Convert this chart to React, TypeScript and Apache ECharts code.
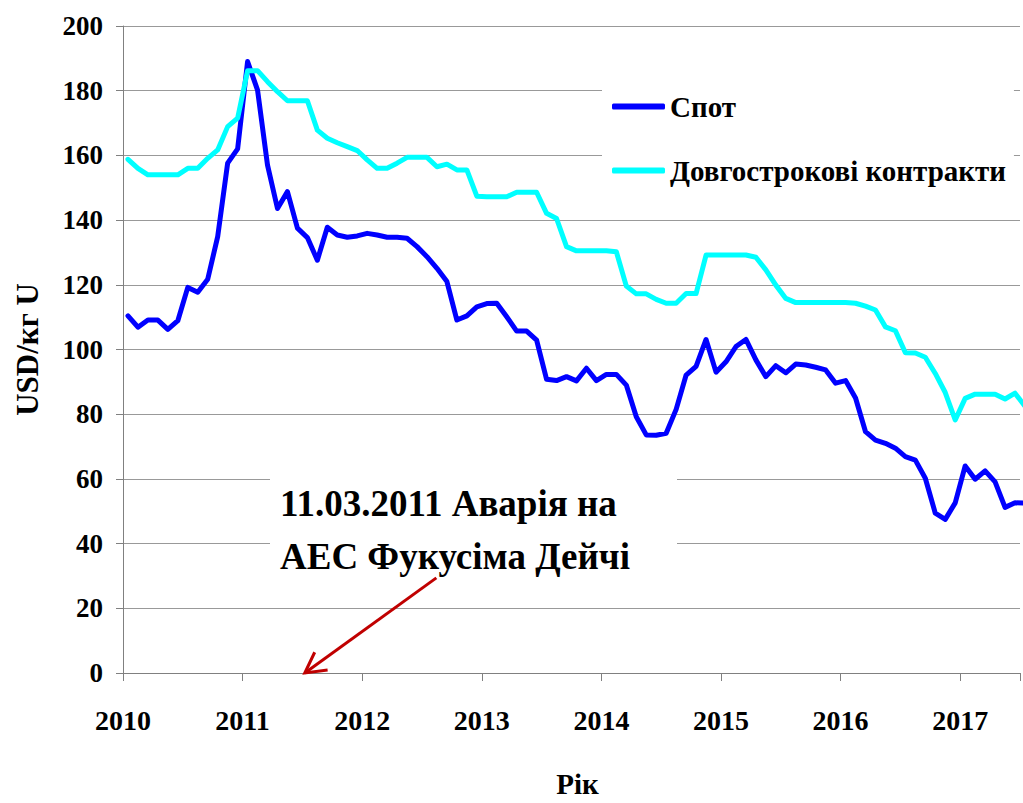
import React, { useEffect, useRef } from "react";
import * as echarts from "echarts";

// Monthly values, Jan 2010 onward (USD per kg U)
const startYear = 2010;
const spot = [
  110.4, 106.9, 109.1, 109.1, 106.2, 108.9, 119.2, 117.7, 121.7, 134.9, 157.6, 162,
  189, 180.2, 157, 143.6, 148.8, 137.5, 134.6, 127.6, 137.8, 135.4, 134.7, 135.1,
  135.9, 135.4, 134.7, 134.7, 134.4, 131.8, 128.7, 125.1, 121, 109.1, 110.4, 113.2,
  114.2, 114.3, 110.1, 105.7, 105.7, 102.9, 90.8, 90.4, 91.6, 90.3, 94.2, 90.4,
  92.3, 92.3, 89, 79.2, 73.6, 73.5, 74.1, 81.5, 92.1, 94.8, 103.1, 93,
  96.2, 100.9, 103.1, 96.8, 91.6, 95, 92.8, 95.5, 95.2, 94.5, 93.7, 89.6,
  90.4, 85, 74.6, 72, 71, 69.5, 66.9, 65.8, 60.2, 49.4, 47.5, 52.6,
  64, 59.9, 62.5, 59.1, 51.2, 52.6, 52.5,
];
const contracts = [
  158.8, 156, 154, 154, 154, 154, 156, 156, 159.1, 161.7, 168.9, 171.5,
  186.2, 186.2, 182.8, 179.7, 176.9, 176.9, 176.9, 167.8, 165.3, 163.9, 162.7, 161.5,
  158.6, 156, 156, 157.6, 159.4, 159.4, 159.4, 156.5, 157.3, 155.5, 155.5, 147.4,
  147.2, 147.2, 147.2, 148.6, 148.6, 148.6, 142.1, 140.5, 131.8, 130.5, 130.5, 130.5,
  130.5, 130.2, 119.6, 117.2, 117.2, 115.5, 114.3, 114.3, 117.3, 117.3, 129.2, 129.2,
  129.2, 129.2, 129.2, 128.5, 124.6, 119.9, 115.8, 114.5, 114.5, 114.5, 114.5, 114.5,
  114.5, 114.3, 113.4, 112.2, 107, 105.8, 99, 98.9, 97.6, 92.6, 86.7, 78.2,
  84.9, 86.2, 86.2, 86.2, 84.7, 86.5, 82.5,
];
const seriesNames = ["Спот", "Довгострокові контракти"];
const yTicks = { min: 0, max: 200, interval: 20 };
const xRange = { min: 2010, max: 2017.5 };
const annotationLines = ["11.03.2011 Аварія на", "АЕС Фукусіма Дейчі"];
const arrowFrom = [2012.62, 29.4];
const arrowTo = [2011.52, 0];

const FONT = "'Liberation Serif', 'Times New Roman', serif";

function toPairs(vals: number[]) {
  return vals.map((v, i) => [startYear + (i + 0.5) / 12, v]);
}

export default function App() {
  const ref = useRef<HTMLDivElement>(null);
  useEffect(() => {
    if (!ref.current) return;
    const chart = echarts.init(ref.current, undefined, { renderer: "svg" });
    const option: any = {
      animation: false,
      backgroundColor: "#ffffff",
      grid: { left: 123, top: 26, right: 0, bottom: 130, containLabel: false },
      legend: {
        orient: "vertical",
        left: 602,
        top: 72,
        padding: [20, 8, 20, 10],
        backgroundColor: "#ffffff",
        itemWidth: 53,
        itemHeight: 6,
        itemGap: 35,
        icon: "roundRect",
        textStyle: { fontFamily: FONT, fontWeight: "bold", fontSize: 29, color: "#000" },
        data: seriesNames,
      },
      xAxis: {
        type: "value",
        min: xRange.min,
        max: xRange.max,
        interval: 1,
        name: "Рік",
        nameLocation: "middle",
        nameGap: 96,
        nameTextStyle: { fontFamily: FONT, fontWeight: "bold", fontSize: 29, color: "#000", padding: [0, 0, 0, 12] },
        axisLine: { show: true, lineStyle: { color: "#808080", width: 1 } },
        axisTick: { show: true, length: 8, lineStyle: { color: "#808080" } },
        splitLine: { show: false },
        axisLabel: {
          margin: 33,
          fontFamily: FONT,
          fontWeight: "bold",
          fontSize: 28,
          color: "#000",
          formatter: (v: number) => (Number.isInteger(v) ? String(v) : ""),
        },
      },
      yAxis: {
        type: "value",
        min: yTicks.min,
        max: yTicks.max,
        interval: yTicks.interval,
        name: "USD/кг U",
        nameLocation: "middle",
        nameRotate: 90,
        nameGap: 80,
        nameTextStyle: { fontFamily: FONT, fontWeight: "bold", fontSize: 31, color: "#000" },
        axisLine: { show: true, lineStyle: { color: "#808080", width: 1 } },
        axisTick: { show: true, length: 7, lineStyle: { color: "#808080" } },
        splitLine: { show: true, lineStyle: { color: "#999999", width: 1 } },
        axisLabel: { margin: 20, fontFamily: FONT, fontWeight: "bold", fontSize: 27, color: "#000" },
      },
      series: [
        {
          name: seriesNames[0],
          type: "line",
          data: toPairs(spot),
          showSymbol: false,
          symbol: "none",
          lineStyle: { color: "#0000ff", width: 5, join: "round", cap: "round" },
          itemStyle: { color: "#0000ff" },
          z: 3,
        },
        {
          name: seriesNames[1],
          type: "line",
          data: toPairs(contracts),
          showSymbol: false,
          symbol: "none",
          lineStyle: { color: "#00ffff", width: 5, join: "round", cap: "round" },
          itemStyle: { color: "#00ffff" },
          z: 4,
        },
      ],
    };
    chart.setOption(option);

    const p0 = chart.convertToPixel({ gridIndex: 0 }, arrowFrom) as number[];
    const p1 = chart.convertToPixel({ gridIndex: 0 }, arrowTo) as number[];
    const ang = Math.atan2(p0[1] - p1[1], p0[0] - p1[0]);
    const headLen = 23;
    const spread = 0.5;
    const a1 = [p1[0] + headLen * Math.cos(ang - spread), p1[1] + headLen * Math.sin(ang - spread)];
    const a2 = [p1[0] + headLen * Math.cos(ang + spread), p1[1] + headLen * Math.sin(ang + spread)];

    chart.setOption({
      graphic: [
        {
          type: "rect",
          shape: { x: 270, y: 468, width: 407, height: 106 },
          style: { fill: "#ffffff" },
          z: 5,
        },
        {
          type: "text",
          x: 280,
          y: 503,
          style: {
            text: annotationLines[0],
            fontFamily: FONT,
            fontWeight: "bold",
            fontSize: 37,
            fill: "#000",
            textVerticalAlign: "middle",
          },
          z: 6,
        },
        {
          type: "text",
          x: 280,
          y: 556,
          style: {
            text: annotationLines[1],
            fontFamily: FONT,
            fontWeight: "bold",
            fontSize: 37,
            fill: "#000",
            textVerticalAlign: "middle",
          },
          z: 6,
        },
        {
          type: "line",
          shape: { x1: p0[0], y1: p0[1], x2: p1[0], y2: p1[1] },
          style: { stroke: "#c00000", lineWidth: 3 },
          z: 7,
        },
        {
          type: "polyline",
          shape: { points: [a1, p1, a2] },
          style: { stroke: "#c00000", lineWidth: 3, fill: "none", lineJoin: "miter" },
          z: 7,
        },
      ],
    });

    return () => chart.dispose();
  }, []);
  return (
    <div
      ref={ref}
      style={{ position: "fixed", left: 0, top: 0, width: 1023, height: 803, background: "#fff" }}
    />
  );
}
